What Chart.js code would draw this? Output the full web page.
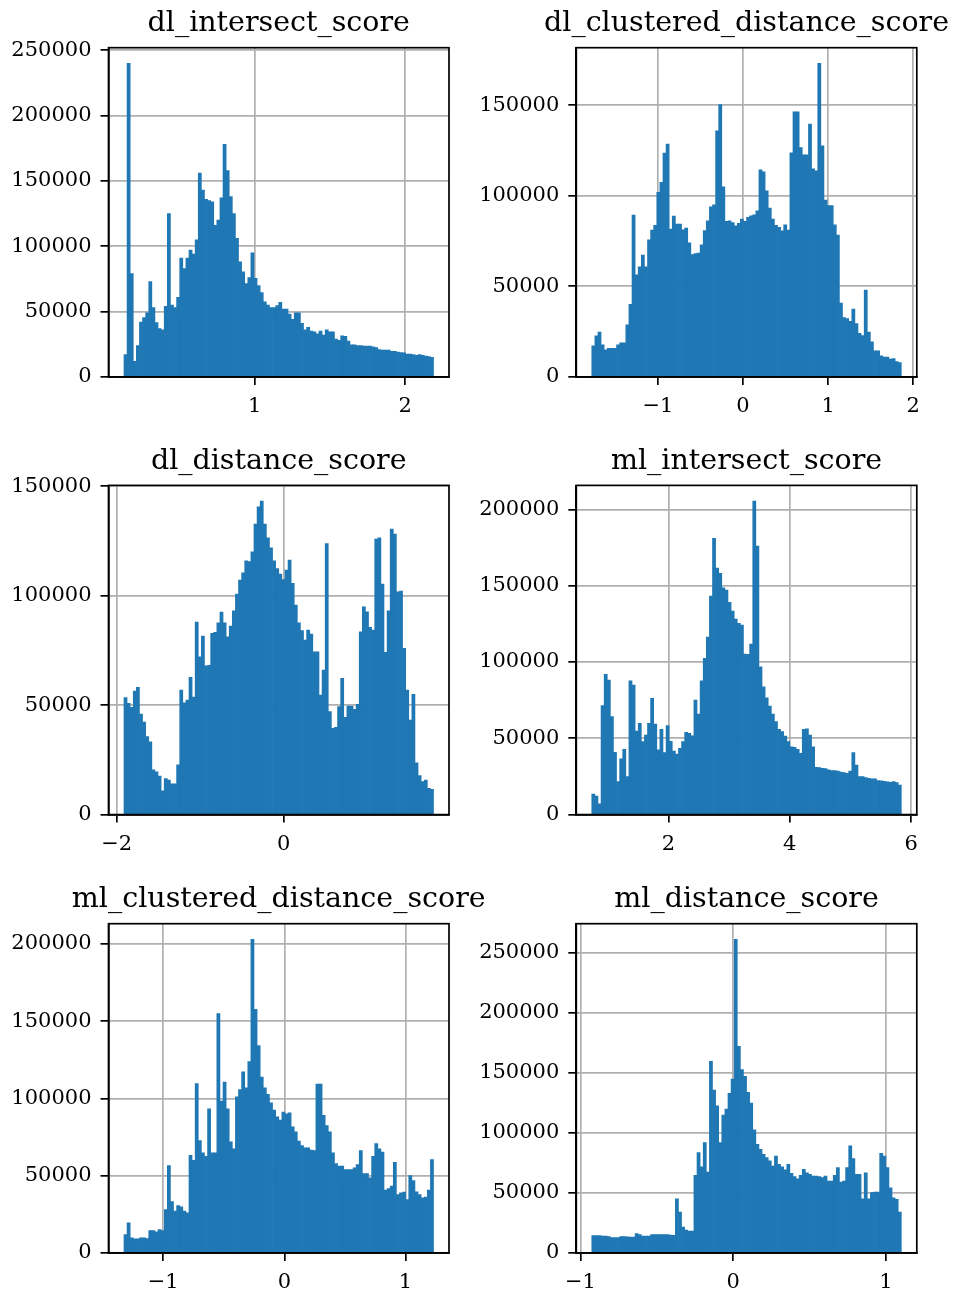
<!DOCTYPE html>
<html>
<head>
<meta charset="utf-8">
<script src="https://cdn.jsdelivr.net/npm/chart.js@4.4.1/dist/chart.umd.min.js"></script>
<style>
  html, body { margin: 0; padding: 0; background: #ffffff; }
  body { width: 956px; height: 1293px; position: relative; overflow: hidden; }
  canvas { position: absolute; }
</style>
</head>
<body>
<script>
// Histogram counts (100 equal-width bins per score) and the outer bin edges.
const panelTitles = [
  'dl_intersect_score', 'dl_clustered_distance_score',
  'dl_distance_score', 'ml_intersect_score',
  'ml_clustered_distance_score', 'ml_distance_score'
];

const dlIntersectEdges = [0.131, 2.188];
const dlIntersectCounts = [
  17000, 240000, 79000, 12000, 24000, 42000, 45500, 49000, 73000, 53000,
  41500, 37000, 36000, 54000, 125000, 55000, 53000, 61000, 91000, 83000,
  91000, 97000, 94000, 105000, 156000, 143000, 136000, 135000, 134000, 116000,
  120000, 137000, 178000, 158000, 138000, 125000, 106000, 88000, 80500, 71500,
  76000, 95000, 75500, 70000, 64500, 57500, 55000, 53000, 53000, 54500,
  57000, 52000, 52000, 48000, 44000, 49000, 49000, 41000, 36000, 38000,
  35000, 34500, 33000, 35000, 32000, 36000, 34500, 34500, 29000, 28000,
  31500, 31000, 27500, 24500, 24500, 24000, 24000, 23500, 23500, 23500,
  23000, 22500, 21000, 20500, 20500, 20500, 19500, 19500, 19000, 18700,
  18500, 17500, 17500, 17000, 16500, 17000, 16500, 16000, 15500, 15000
];
const dlIntersectXTicks = [1, 2];
const dlIntersectYTicks = [0, 50000, 100000, 150000, 200000, 250000];

const dlClusteredEdges = [-1.777, 1.861];
const dlClusteredCounts = [
  17100, 22600, 24800, 17700, 14900, 15800, 15800, 15800, 17700, 18800,
  18800, 28700, 40100, 89300, 56300, 60700, 67200, 60700, 75600, 81000,
  83700, 101800, 107300, 123500, 128500, 81500, 88700, 84300, 84300, 81200,
  82100, 74000, 67500, 68100, 68300, 72900, 80700, 86100, 93900, 95000,
  135800, 150300, 104900, 85800, 86100, 85200, 83400, 84700, 87100, 85800,
  88000, 88900, 89400, 91700, 114300, 113200, 102700, 93100, 87100, 83700,
  82500, 80600, 83900, 81000, 123700, 146300, 146300, 126600, 122600, 122600,
  139500, 114800, 113700, 173000, 127500, 97500, 94500, 94500, 83900, 78200,
  40700, 32800, 32200, 30600, 37400, 29400, 24100, 22800, 47900, 24800,
  19300, 14400, 14400, 11600, 11000, 11000, 9800, 10100, 8500, 7900
];
const dlClusteredXTicks = [-1, 0, 1, 2];
const dlClusteredYTicks = [0, 50000, 100000, 150000];

const dlDistanceEdges = [-1.913, 1.793];
const dlDistanceCounts = [
  53400, 50800, 49000, 56400, 58100, 45900, 42300, 35600, 33200, 20400,
  19500, 17600, 10900, 16400, 15800, 14100, 14100, 22700, 56900, 51100,
  52300, 62700, 53700, 87900, 72100, 81500, 68000, 68200, 82800, 83200,
  87600, 92500, 87600, 81200, 86100, 93100, 100700, 107100, 110400, 115900,
  115600, 120000, 132700, 140600, 143200, 132700, 126400, 121900, 115900, 112400,
  109800, 107400, 111700, 116200, 105600, 95700, 87600, 84000, 79700, 84300,
  82500, 74400, 74400, 54600, 66000, 123800, 47000, 39400, 39900, 49300,
  62200, 44400, 49600, 49600, 48100, 50400, 83500, 94900, 92600, 85500,
  84300, 125800, 126400, 105300, 74100, 93100, 130400, 128100, 101800, 102100,
  75900, 56900, 43200, 54900, 23700, 17800, 15100, 15800, 12000, 11500
];
const dlDistanceXTicks = [-2, 0];
const dlDistanceYTicks = [0, 50000, 100000, 150000];

const mlIntersectEdges = [0.736, 5.839];
const mlIntersectCounts = [
  13500, 12200, 7000, 71400, 91900, 88200, 64200, 40800, 21600, 36500,
  42800, 24900, 87600, 84900, 54800, 59800, 47800, 52200, 59800, 76200,
  59400, 42400, 55900, 40600, 58300, 48000, 41700, 39700, 43400, 47800,
  53900, 53300, 51700, 75100, 65900, 87600, 102400, 116400, 143200, 181000,
  161600, 158100, 148700, 147200, 139100, 133400, 128200, 125300, 124200, 105200,
  105000, 111800, 205500, 176000, 96900, 83800, 76600, 71200, 65900, 60900,
  55900, 54400, 51500, 47800, 44500, 44100, 42800, 40200, 55900, 56300,
  52200, 44500, 31000, 30800, 30400, 30100, 29300, 28800, 28800, 28600,
  27900, 27500, 27100, 28600, 40600, 32500, 24900, 24900, 24200, 23800,
  23400, 23400, 22300, 22100, 21800, 21400, 21200, 21600, 21000, 19400
];
const mlIntersectXTicks = [2, 4, 6];
const mlIntersectYTicks = [0, 50000, 100000, 150000, 200000];

const mlClusteredEdges = [-1.324, 1.231];
const mlClusteredCounts = [
  11900, 19400, 9700, 9100, 9100, 9700, 9700, 9300, 14500, 14500,
  13600, 15100, 14500, 28100, 56600, 33300, 27000, 30700, 29800, 27000,
  25900, 63100, 60000, 109700, 72800, 64800, 62600, 93300, 64800, 64800,
  154900, 98300, 110600, 93300, 71900, 67400, 101100, 105800, 117300, 106900,
  123800, 203000, 157700, 134300, 113800, 106900, 102600, 97200, 92400, 88100,
  86000, 91100, 90100, 90700, 81600, 78400, 72400, 69500, 68000, 68000,
  66500, 66300, 109300, 109300, 89000, 82500, 78400, 64800, 57900, 56200,
  56200, 54000, 54000, 54000, 55100, 57200, 66300, 51400, 51400, 48600,
  62600, 70800, 67400, 65200, 40600, 41700, 43200, 58700, 37800, 38900,
  39300, 34600, 50100, 46900, 39500, 37800, 35600, 36100, 40600, 60500
];
const mlClusteredXTicks = [-1, 0, 1];
const mlClusteredYTicks = [0, 50000, 100000, 150000, 200000];

const mlDistanceEdges = [-0.926, 1.100];
const mlDistanceCounts = [
  14500, 14500, 14500, 14000, 13900, 13500, 12800, 12800, 12800, 13600,
  13600, 13400, 13100, 13100, 16100, 15300, 14000, 13900, 13900, 15300,
  15300, 15300, 15300, 15300, 15300, 14800, 14700, 45000, 33900, 21400,
  18900, 18100, 18100, 64500, 83400, 71500, 91800, 67300, 159300, 135400,
  122400, 91800, 114600, 119600, 132700, 144600, 260800, 171900, 152400, 146800,
  133500, 124600, 102300, 90400, 86200, 82000, 79300, 76500, 72300, 80600,
  73700, 71700, 69000, 73700, 66200, 63400, 61700, 64500, 69500, 66700,
  65400, 64000, 64000, 63400, 62600, 64000, 59800, 59800, 64500, 70900,
  59000, 59800, 70900, 89000, 78400, 65400, 65400, 45000, 66700, 45000,
  50100, 50600, 50600, 82900, 80600, 70900, 54200, 45900, 44500, 33900
];
const mlDistanceXTicks = [-1, 0, 1];
const mlDistanceYTicks = [0, 50000, 100000, 150000, 200000, 250000];

// ---- page geometry (2 x 3 grid of axes) ----
const PLOT_W = 340.5;
const PLOT_H = 329.2;
const COL_PLOT_LEFT = [108.5, 576.3];
const COL_CANVAS_LEFT = [0, 470];
const COL_CANVAS_W = [500, 486];
const ROW_PLOT_TOP = [47.7, 485.4, 923.7];
const ROW_CANVAS_TOP = [0, 437, 875];
const CANVAS_H = 430;

const BAR_BLUE = '#1f77b4';
const GRID_GREY = '#b0b0b0';
const SERIF = "'DejaVu Serif', 'Liberation Serif', serif";
const TITLE_SIZE = 28.5;
const TITLE_GAP = 16.5;   // baseline distance above the top spine
const LINE_W = 1.7;

const panels = [
  { title: panelTitles[0], counts: dlIntersectCounts, edges: dlIntersectEdges, xTicks: dlIntersectXTicks, yTicks: dlIntersectYTicks, col: 0, row: 0 },
  { title: panelTitles[1], counts: dlClusteredCounts, edges: dlClusteredEdges, xTicks: dlClusteredXTicks, yTicks: dlClusteredYTicks, col: 1, row: 0 },
  { title: panelTitles[2], counts: dlDistanceCounts, edges: dlDistanceEdges, xTicks: dlDistanceXTicks, yTicks: dlDistanceYTicks, col: 0, row: 1 },
  { title: panelTitles[3], counts: mlIntersectCounts, edges: mlIntersectEdges, xTicks: mlIntersectXTicks, yTicks: mlIntersectYTicks, col: 1, row: 1 },
  { title: panelTitles[4], counts: mlClusteredCounts, edges: mlClusteredEdges, xTicks: mlClusteredXTicks, yTicks: mlClusteredYTicks, col: 0, row: 2 },
  { title: panelTitles[5], counts: mlDistanceCounts, edges: mlDistanceEdges, xTicks: mlDistanceXTicks, yTicks: mlDistanceYTicks, col: 1, row: 2 }
];

// Closed box around the plotting area (top and right spines included).
const framePlugin = {
  id: 'frame',
  afterDraw(chart) {
    const { ctx, chartArea: a } = chart;
    ctx.save();
    ctx.strokeStyle = '#000000';
    ctx.lineWidth = LINE_W;
    ctx.strokeRect(a.left, a.top, a.right - a.left, a.bottom - a.top);
    ctx.restore();
  }
};

// Axes title, centred over the plotting area.
const panelTitlePlugin = {
  id: 'panelTitle',
  afterDraw(chart, args, opts) {
    const { ctx, chartArea: a } = chart;
    ctx.save();
    ctx.font = `normal ${opts.size}px ${SERIF}`;
    ctx.fillStyle = '#000000';
    ctx.textAlign = 'center';
    ctx.textBaseline = 'alphabetic';
    ctx.fillText(opts.text, (a.left + a.right) / 2, a.top - opts.gap);
    ctx.restore();
  }
};

const fmtTick = v => (v < 0 ? '\u2212' + Math.abs(v) : String(v));

panels.forEach(p => {
  const canvas = document.createElement('canvas');
  const cLeft = COL_CANVAS_LEFT[p.col];
  const cTop = ROW_CANVAS_TOP[p.row];
  const cW = COL_CANVAS_W[p.col];
  canvas.width = cW;
  canvas.height = CANVAS_H;
  canvas.style.left = cLeft + 'px';
  canvas.style.top = cTop + 'px';
  canvas.style.width = cW + 'px';
  canvas.style.height = CANVAS_H + 'px';
  document.body.appendChild(canvas);

  const yAxisW = COL_PLOT_LEFT[p.col] - cLeft;
  const titleH = ROW_PLOT_TOP[p.row] - cTop;
  const xAxisH = CANVAS_H - titleH - PLOT_H;
  const padRight = cW - yAxisW - PLOT_W;

  const [lo, hi] = p.edges;
  const binW = (hi - lo) / p.counts.length;
  const span = hi - lo;
  const points = p.counts.map((c, i) => ({ x: lo + (i + 0.5) * binW, y: c }));
  const yMax = Math.max(...p.counts) * 1.05;

  new Chart(canvas, {
    type: 'bar',
    data: {
      datasets: [{
        data: points,
        backgroundColor: BAR_BLUE,
        borderWidth: 0,
        barPercentage: 1.0,
        categoryPercentage: 1.0
      }]
    },
    options: {
      responsive: false,
      maintainAspectRatio: false,
      animation: false,
      devicePixelRatio: 1,
      layout: { padding: { left: 0, top: titleH, right: padRight, bottom: 0 } },
      plugins: {
        legend: { display: false },
        tooltip: { enabled: false },
        title: { display: false },
        panelTitle: { text: p.title, size: TITLE_SIZE, gap: TITLE_GAP }
      },
      scales: {
        x: {
          type: 'linear',
          offset: false,
          min: lo - 0.05 * span,
          max: hi + 0.05 * span,
          z: 1,
          afterBuildTicks: s => { s.ticks = p.xTicks.map(v => ({ value: v })); },
          afterFit: s => { s.height = xAxisH; },
          grid: { offset: false, color: GRID_GREY, lineWidth: LINE_W, drawTicks: true,
                  tickLength: 8, tickColor: '#000000', tickWidth: LINE_W },
          border: { display: true, color: '#000000', width: LINE_W },
          ticks: { color: '#000000', font: { family: SERIF, size: 21 }, padding: 9,
                   maxRotation: 0, autoSkip: false, callback: v => fmtTick(v) }
        },
        y: {
          type: 'linear',
          min: 0,
          max: yMax,
          z: 1,
          afterBuildTicks: s => { s.ticks = p.yTicks.map(v => ({ value: v })); },
          afterFit: s => { s.width = yAxisW; },
          grid: { color: GRID_GREY, lineWidth: LINE_W, drawTicks: true,
                  tickLength: 8, tickColor: '#000000', tickWidth: LINE_W },
          border: { display: true, color: '#000000', width: LINE_W },
          ticks: { color: '#000000', font: { family: SERIF, size: 21 }, padding: 9,
                   autoSkip: false, callback: v => String(v) }
        }
      }
    },
    plugins: [framePlugin, panelTitlePlugin]
  });
});
</script>
</body>
</html>
